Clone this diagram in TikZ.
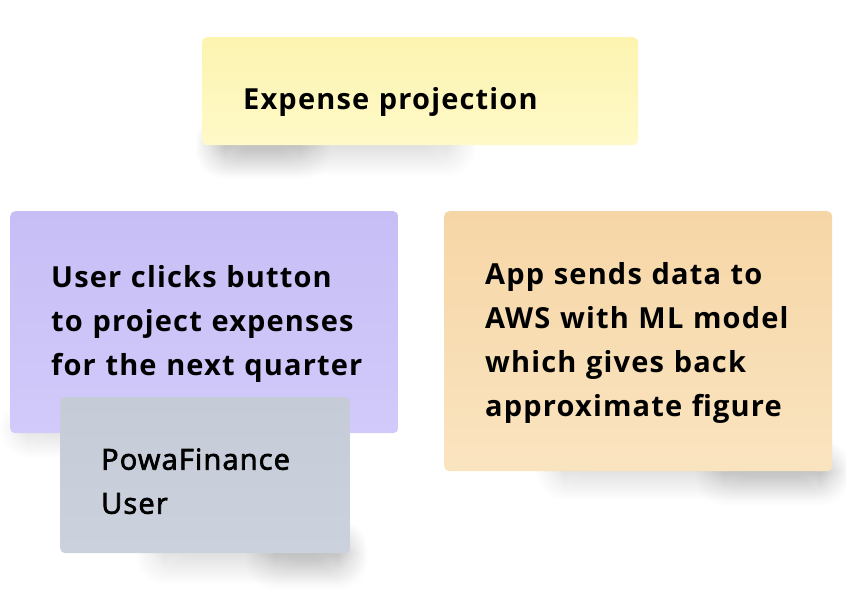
\documentclass[tikz,border=0pt]{standalone}
\usepackage{fontspec}
\setmainfont{Open Sans}[LetterSpace=4]

\definecolor{noteyellowtop}{RGB}{253,244,176}
\definecolor{noteyellowbot}{RGB}{254,249,200}
\definecolor{notepurpletop}{RGB}{199,190,246}
\definecolor{notepurplebot}{RGB}{210,202,250}
\definecolor{notegreytop}{RGB}{197,204,215}
\definecolor{notegreybot}{RGB}{203,210,221}
\definecolor{noteorangetop}{RGB}{246,214,166}
\definecolor{noteorangebot}{RGB}{250,228,192}

% soft shadow under a note: corners x1,y1,x2,y2
\newcommand{\noteshadow}[4]{%
  \foreach \i in {0,...,29}
    \fill[black, opacity=0.0055, rounded corners=28pt] (#1+\i,#2+\i) rectangle (#3-\i,#4-\i);}

\tikzset{
  note/.style={anchor=north west, rounded corners=5pt, inner xsep=0pt, inner ysep=0pt,
    align=left, font=\bfseries\fontsize{29}{44}\selectfont,
    execute at begin node={\leftskip=41pt\relax}},
}

\begin{document}
\begin{tikzpicture}[x=1pt,y=-1pt]
        \useasboundingbox[fill=white] (0,0) rectangle (846,614);

        \noteshadow{196}{112}{476}{176}
        \noteshadow{196}{112}{330}{180}
        \node[note, top color=noteyellowtop, bottom color=noteyellowbot,
              minimum width=436pt, minimum height=108pt, text width=436pt,
              text height=43.6pt, text depth=7pt]
              (projection) at (202,37) {Expense projection};

        \noteshadow{0}{400}{215}{458}
        \node[note, top color=notepurpletop, bottom color=notepurplebot,
              minimum width=388pt, minimum height=222pt, text width=388pt,
              text height=25pt, text depth=95pt]
              (click) at (10,211) {User clicks button\\to project expenses\\for the next quarter};

        \noteshadow{136}{520}{366}{584}
        \noteshadow{246}{520}{368}{590}
        \node[note, top color=notegreytop, bottom color=notegreybot,
              minimum width=290pt, minimum height=156pt, text width=290pt,
              text height=33pt, text depth=44pt]
              (user) at (60,397) {\mdseries\addfontfeature{FakeBold=2.5}PowaFinance\\User};

        \noteshadow{536}{440}{850}{500}
        \noteshadow{696}{440}{850}{506}
        \node[note, top color=noteorangetop, bottom color=noteorangebot,
              minimum width=388pt, minimum height=260pt, text width=388pt,
              text height=25pt, text depth=139pt]
              (aws) at (444,211) {App sends data to\\AWS with ML model\\which gives back\\approximate figure};
    \end{tikzpicture}
\end{document}
